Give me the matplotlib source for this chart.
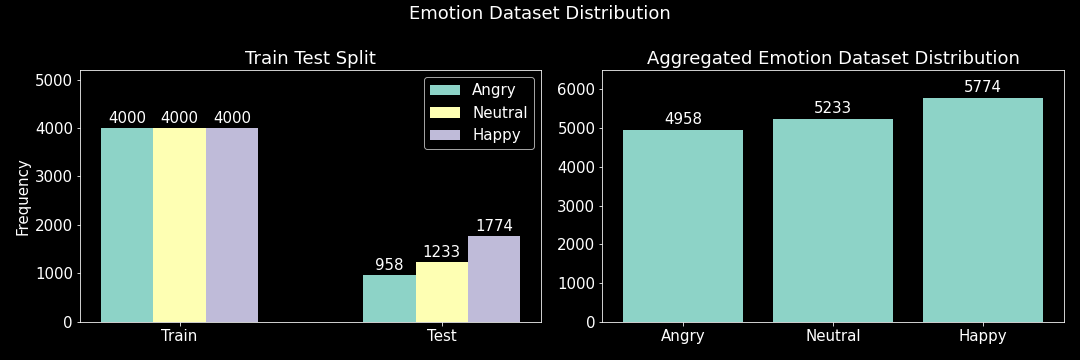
import numpy as np
import matplotlib
matplotlib.use("Agg")
import matplotlib.pyplot as plt

# Data
splits = ["Train", "Test"]
emotions = ["Angry", "Neutral", "Happy"]
angry_counts = [4000, 958]
neutral_counts = [4000, 1233]
happy_counts = [4000, 1774]
totals = [4958, 5233, 5774]

plt.style.use("dark_background")
plt.rcParams.update({
    "font.size": 15,
    "axes.titlesize": 18,
    "axes.labelsize": 15,
    "xtick.labelsize": 15,
    "ytick.labelsize": 15,
    "legend.fontsize": 15,
})

colors = ["#8dd3c7", "#feffb3", "#bfbbd9"]

fig, (ax1, ax2) = plt.subplots(1, 2, figsize=(15, 5), dpi=72)
fig.suptitle("Emotion Dataset Distribution", fontsize=18, y=0.985)

x = np.arange(len(splits))
w = 0.2
series = [angry_counts, neutral_counts, happy_counts]
for i, (name, vals) in enumerate(zip(emotions, series)):
    bars = ax1.bar(x + (i - 1) * w, vals, w, label=name, color=colors[i])
    ax1.bar_label(bars, padding=2, fontsize=15)
ax1.set_xticks(x)
ax1.set_xticklabels(splits)
ax1.set_ylim(0, 5200)
ax1.set_ylabel("Frequency")
ax1.set_title("Train Test Split")
ax1.legend(loc="upper right")

bars = ax2.bar(emotions, totals, color=colors[0])
ax2.bar_label(bars, padding=3, fontsize=15)
ax2.set_ylim(0, 6500)
ax2.set_title("Aggregated Emotion Dataset Distribution")

fig.subplots_adjust(left=0.074, right=0.985, top=0.806, bottom=0.106, wspace=0.132)
plt.savefig("out.png", dpi=72)
plt.close()
